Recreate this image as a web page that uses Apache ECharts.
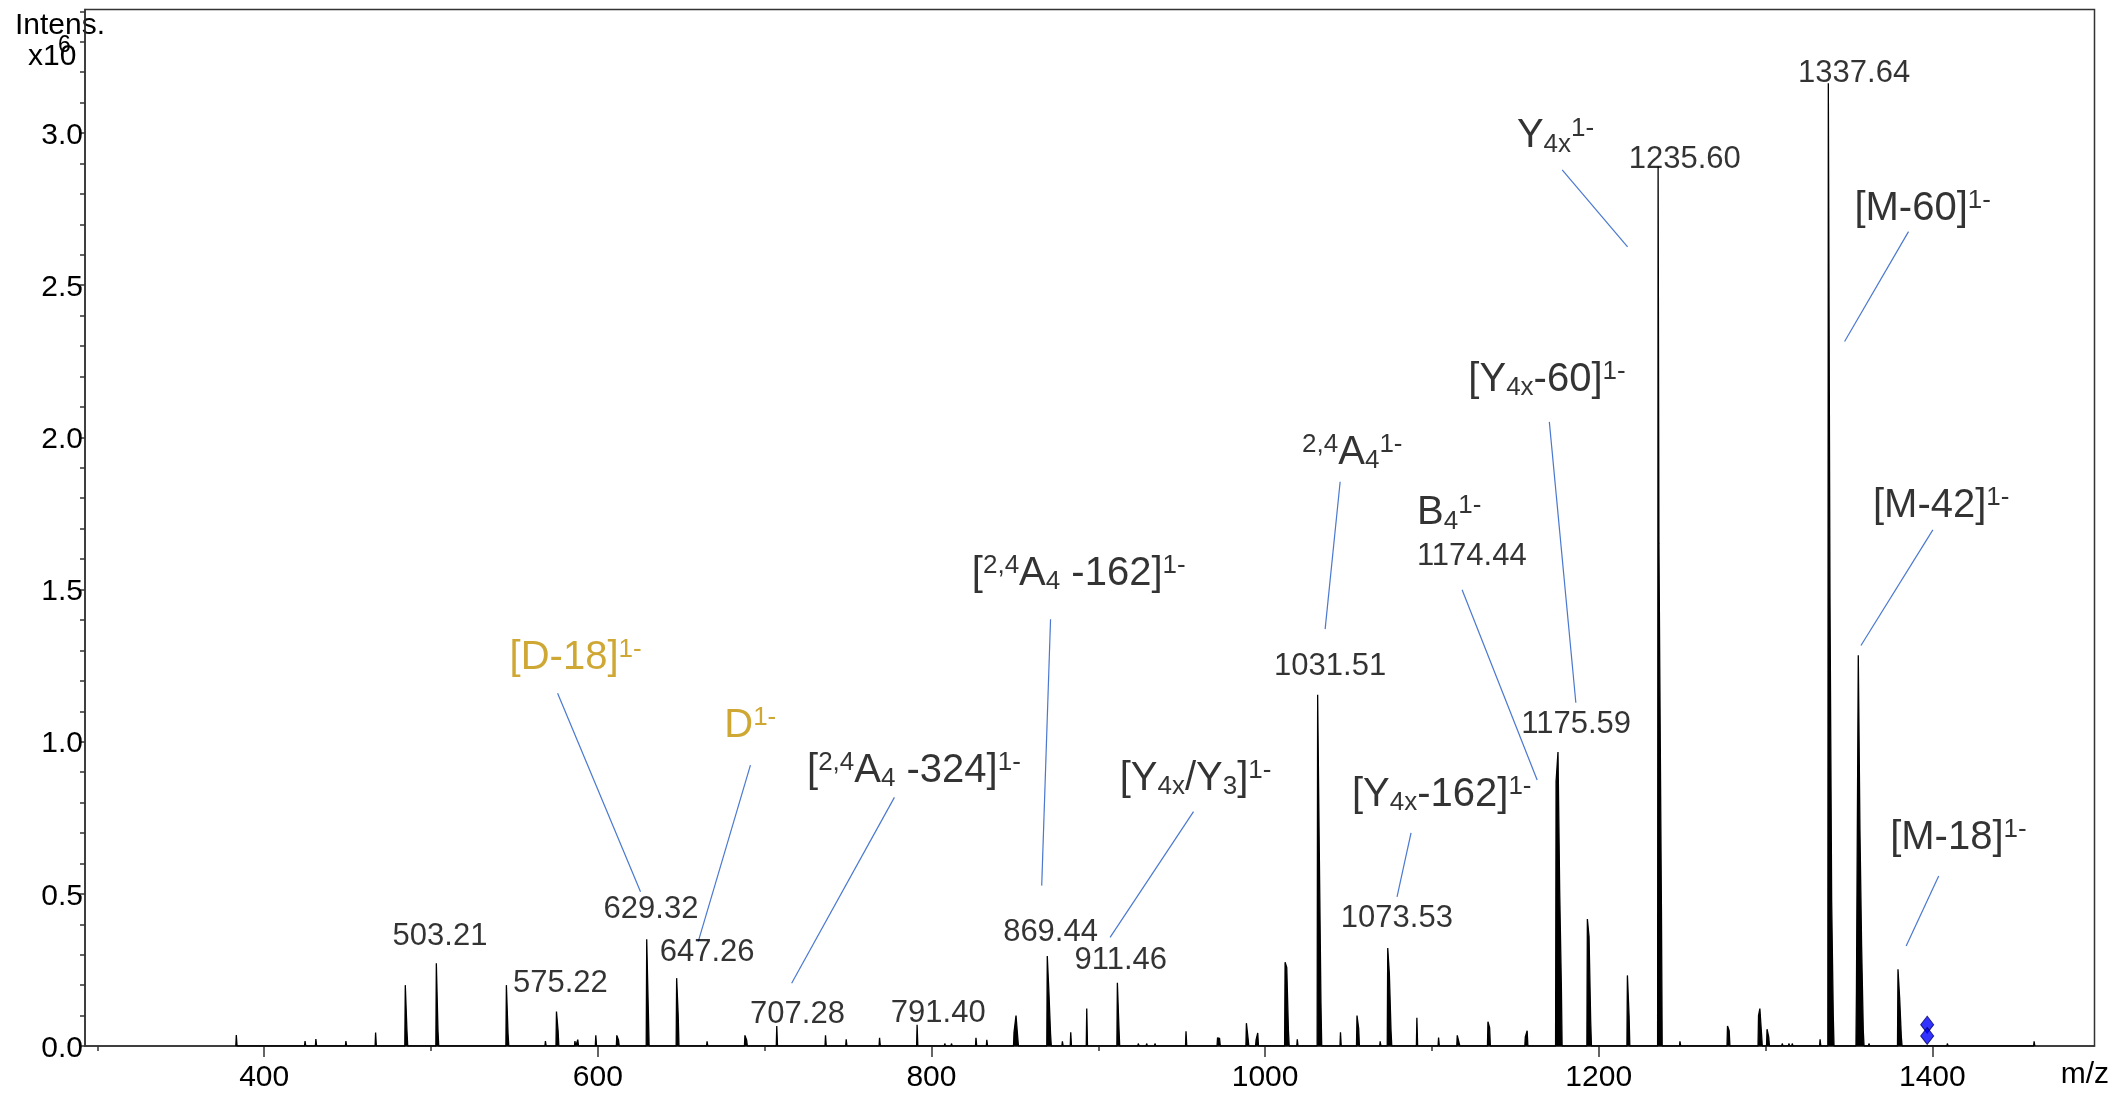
<!DOCTYPE html>
<html><head><meta charset="utf-8">
<script src="https://cdn.jsdelivr.net/npm/echarts@6/dist/echarts.min.js"></script>
<style>html,body{margin:0;padding:0;background:#fff}#c{width:2112px;height:1093px}</style>
</head><body><div id="c"></div>
<script>
const FONT = '"Liberation Sans", Arial, Helvetica, sans-serif';

// axis ticks
const xTicksMajor = [400, 600, 800, 1000, 1200, 1400];
const xTicksMinor = [300, 500, 700, 900, 1100, 1300];
const yTicksMajor = [0, 0.5, 1.0, 1.5, 2.0, 2.5, 3.0];
const yTicksMinor = [0.1,0.2,0.3,0.4,0.6,0.7,0.8,0.9,1.1,1.2,1.3,1.4,1.6,1.7,1.8,1.9,
                     2.1,2.2,2.3,2.4,2.6,2.7,2.8,2.9,3.1,3.2,3.3,3.4];
const X_MIN = 292.6, X_MAX = 1497.2, Y_MAX = 3.406;

// spectrum peaks: [m/z, intensity (x10^6)]
const peaks = [
 [383.3,0.036],[409.5,0.006],[424.5,0.016],[431.0,0.023],[439.0,0.006],[449.0,0.016],[466.8,0.044],
 [484.6,0.200],[485.6,0.050],
 [503.21,0.272],[504.2,0.050],
 [526.4,0.006],
 [545.2,0.200],[546.2,0.040],
 [558.7,0.006],[568.6,0.016],
 [575.22,0.113],[576.2,0.050],
 [586.3,0.016],[588.0,0.021],[598.8,0.035],
 [611.4,0.035],[612.4,0.020],
 [629.32,0.351],[630.3,0.113],
 [647.26,0.223],[648.2,0.100],
 [652.0,0.006],[665.5,0.015],
 [688.2,0.035],[689.2,0.020],
 [707.28,0.066],[710.3,0.005],[715.0,0.005],
 [736.5,0.035],[748.9,0.022],[768.9,0.027],
 [791.40,0.070],[808.0,0.008],[812.0,0.008],[826.7,0.027],[833.2,0.020],
 [849.5,0.045],[850.7,0.100],[851.7,0.030],
 [869.44,0.296],[870.4,0.180],[871.4,0.040],
 [876.0,0.006],[878.5,0.015],[883.5,0.045],[893.1,0.123],
 [911.46,0.208],[912.4,0.060],
 [924.0,0.008],[929.0,0.008],[934.0,0.008],[952.6,0.048],[960.0,0.006],[967.0,0.006],
 [971.5,0.027],[972.7,0.025],
 [988.8,0.075],[989.8,0.025],
 [994.6,0.020],[995.6,0.043],
 [1012.0,0.275],[1013.0,0.258],[1014.0,0.050],
 [1019.3,0.022],
 [1031.51,1.154],[1032.5,0.640],[1033.5,0.140],
 [1045.2,0.045],
 [1055.1,0.100],[1056.1,0.058],
 [1069.0,0.015],
 [1073.53,0.322],[1074.5,0.237],[1075.5,0.050],
 [1086.0,0.006],[1088.0,0.006],[1091.0,0.093],[1095.0,0.005],[1104.0,0.028],
 [1115.2,0.035],[1116.3,0.033],
 [1120.0,0.005],
 [1133.6,0.080],[1134.6,0.060],
 [1142.0,0.005],[1146.0,0.005],
 [1156.0,0.030],[1157.1,0.050],
 [1174.44,0.870],[1175.59,0.966],[1176.6,0.510],[1177.6,0.200],
 [1193.2,0.417],[1194.2,0.360],[1195.2,0.080],
 [1201.0,0.006],
 [1217.2,0.232],[1218.2,0.100],
 [1235.60,2.890],[1236.1,1.650],[1236.6,1.240],[1237.6,0.450],
 [1248.7,0.015],[1256.0,0.005],
 [1277.2,0.066],[1278.2,0.050],
 [1287.0,0.005],
 [1295.8,0.100],[1296.6,0.123],[1297.6,0.040],
 [1300.9,0.055],[1301.9,0.030],
 [1310.0,0.008],[1314.0,0.008],[1316.0,0.008],
 [1332.7,0.022],
 [1337.64,3.164],[1338.64,1.470],[1339.64,0.475],[1340.6,0.100],
 [1345.0,0.005],
 [1354.5,0.180],[1355.6,1.284],[1356.6,0.708],[1357.6,0.326],[1358.6,0.050],
 [1362.0,0.008],
 [1379.4,0.252],[1380.4,0.158],[1381.4,0.030],
 [1409.0,0.008],[1461.0,0.015]
];

// precursor markers [m/z, intensity]
const precursor = [[1396.9, 0.070], [1396.9, 0.033]];

// peak m/z labels: [text, anchor m/z, anchor intensity]
const peakLabels = [
 ['503.21',505.4,0.361],['575.22',577.6,0.207],['629.32',631.9,0.449],['647.26',665.5,0.307],
 ['707.28',719.7,0.103],['791.40',804.1,0.107],['869.44',871.4,0.373],['911.46',913.5,0.280],
 ['1031.51',1039.0,1.248],['1073.53',1079.0,0.420],['1174.44',1123.9,1.609],['1175.59',1186.5,1.058],
 ['1235.60',1251.6,2.912],['1337.64',1353.1,3.197]
];

// fragment annotations: [rich text, anchor m/z, anchor intensity]
const annotations = [
 ['{gn|[D-18]}{gsup|1-}', 586.7, 1.274],
 ['{gn|D}{gsup|1-}', 691.4, 1.052],
 ['{n|[}{sup|2,4}{n|A}{sub|4}{n| -324]}{sup|1-}', 789.5, 0.904],
 ['{n|[}{sup|2,4}{n|A}{sub|4}{n| -162]}{sup|1-}', 888.3, 1.550],
 ['{n|[Y}{sub|4x}{n|/Y}{sub|3}{n|]}{sup|1-}', 958.3, 0.877],
 ['{sup|2,4}{n|A}{sub|4}{sup|1-}', 1052.3, 1.950],
 ['{n|B}{sub|4}{sup|1-}', 1110.4, 1.750],
 ['{n|[Y}{sub|4x}{n|-60]}{sup|1-}', 1169.0, 2.189],
 ['{n|Y}{sub|4x}{sup|1-}', 1174.1, 2.989],
 ['{n|[Y}{sub|4x}{n|-162]}{sup|1-}', 1105.9, 0.826],
 ['{n|[M-60]}{sup|1-}', 1394.2, 2.750],
 ['{n|[M-42]}{sup|1-}', 1405.3, 1.775],
 ['{n|[M-18]}{sup|1-}', 1415.6, 0.685]
];

// leader lines: [[m/z, int], [m/z, int]]
const leaders = [
 [[575.9,1.159],[625.6,0.507]],
 [[691.5,0.923],[660.2,0.343]],
 [[777.8,0.817],[716.2,0.206]],
 [[871.4,1.402],[866.1,0.527]],
 [[957.1,0.770],[907.1,0.357]],
 [[1045.0,1.854],[1036.0,1.370]],
 [[1118.1,1.499],[1163.1,0.874]],
 [[1170.4,2.051],[1186.3,1.128]],
 [[1178.1,2.879],[1217.3,2.626]],
 [[1087.5,0.700],[1079.1,0.490]],
 [[1385.7,2.676],[1347.4,2.315]],
 [[1400.3,1.696],[1357.2,1.316]],
 [[1403.8,0.559],[1384.3,0.329]]
];

function buildProfile(list) {
  const pts = [];
  for (let i = 0; i < list.length; i++) {
    const m = list[i][0], h = list[i][1];
    const prev = i > 0 ? list[i-1][0] : -Infinity;
    const next = i < list.length - 1 ? list[i+1][0] : Infinity;
    if (m - prev > 1.25) pts.push([m - 0.3, 0]);
    pts.push([m, h]);
    if (next - m > 1.25) pts.push([m + 0.45, 0]);
  }
  return pts;
}

const AX = '#333';
const GOLD = '#C39100';
const rich = {
  n:    {fontSize: 40, fontFamily: FONT, lineHeight: 42, color: '#000'},
  sup:  {fontSize: 26, fontFamily: FONT, lineHeight: 28, verticalAlign: 'top', color: '#000'},
  sub:  {fontSize: 26, fontFamily: FONT, lineHeight: 15, verticalAlign: 'bottom', color: '#000'},
  gn:   {fontSize: 40, fontFamily: FONT, lineHeight: 42, color: GOLD},
  gsup: {fontSize: 26, fontFamily: FONT, lineHeight: 28, verticalAlign: 'top', color: GOLD}
};

const chart = echarts.init(document.getElementById('c'), null, {renderer: 'canvas'});
const option = {
  animation: false,
  backgroundColor: '#fff',
  grid: {left: 85, right: 17.5, top: 9.5, bottom: 47, show: true, borderColor: AX, borderWidth: 1.5, backgroundColor: 'transparent'},
  xAxis: [{
    type: 'value', min: X_MIN, max: X_MAX, position: 'bottom',
    axisLine: {show: true, onZero: false, lineStyle: {color: AX, width: 1.5}},
    axisTick: {show: true, length: 11, customValues: xTicksMajor, lineStyle: {color: AX, width: 1.5}},
    axisLabel: {show: true, customValues: xTicksMajor, margin: 17, fontSize: 30, fontFamily: FONT, color: '#000',
                formatter: v => String(Math.round(v))},
    splitLine: {show: false}
  }, {
    type: 'value', min: X_MIN, max: X_MAX, position: 'bottom',
    axisLine: {show: false, onZero: false},
    axisTick: {show: true, length: 5, customValues: xTicksMinor, lineStyle: {color: AX, width: 1.5}},
    axisLabel: {show: false},
    splitLine: {show: false}
  }],
  yAxis: [{
    type: 'value', min: 0, max: Y_MAX, position: 'left',
    axisLine: {show: true, onZero: false, lineStyle: {color: AX, width: 1.5}},
    axisTick: {show: true, length: 5, customValues: yTicksMajor, lineStyle: {color: AX, width: 1.5}},
    axisLabel: {show: true, customValues: yTicksMajor, margin: 2, color: '#000',
                formatter: v => '{t|' + Number(v).toFixed(1) + '}',
                rich: {t: {fontSize: 30, fontFamily: FONT, color: '#000', padding: [5, 0, 0, 0]}}},
    splitLine: {show: false}
  }, {
    type: 'value', min: 0, max: Y_MAX, position: 'left',
    axisLine: {show: false, onZero: false},
    axisTick: {show: true, length: 5, customValues: yTicksMinor, lineStyle: {color: AX, width: 1.5}},
    axisLabel: {show: false},
    splitLine: {show: false}
  }],
  graphic: [
    {type: 'text', x: 15, y: 25.5, style: {text: 'Intens.', fontSize: 30, fontFamily: FONT, fill: '#000', align: 'left', verticalAlign: 'middle', textAlign: 'left', textVerticalAlign: 'middle'}},
    {type: 'text', x: 28, y: 57, style: {text: 'x10', fontSize: 30, fontFamily: FONT, fill: '#000', align: 'left', verticalAlign: 'middle', textAlign: 'left', textVerticalAlign: 'middle'}},
    {type: 'text', x: 64.5, y: 46, style: {text: '6', fontSize: 23, fontFamily: FONT, fill: '#000', align: 'center', verticalAlign: 'middle', textAlign: 'center', textVerticalAlign: 'middle'}},
    {type: 'text', x: 2109, y: 1075, style: {text: 'm/z', fontSize: 30, fontFamily: FONT, fill: '#000', align: 'right', verticalAlign: 'middle', textAlign: 'right', textVerticalAlign: 'middle'}}
  ],
  series: [
    {
      type: 'line', xAxisIndex: 0, yAxisIndex: 0, data: buildProfile(peaks),
      symbol: 'none', showSymbol: false, silent: true, z: 3,
      lineStyle: {color: '#000', width: 1.3},
      areaStyle: {color: '#000', opacity: 1}
    },
    {
      type: 'lines', coordinateSystem: 'cartesian2d', xAxisIndex: 0, yAxisIndex: 0, silent: true, z: 4,
      data: leaders.map(c => ({coords: c})),
      lineStyle: {color: '#4a78d0', width: 1.2, opacity: 1, curveness: 0}
    },
    {
      type: 'scatter', xAxisIndex: 0, yAxisIndex: 0, z: 6,
      data: precursor, symbol: 'diamond', symbolSize: [13, 17],
      itemStyle: {color: '#0000ff', borderColor: '#000066', borderWidth: 1}
    },
    {
      type: 'scatter', xAxisIndex: 0, yAxisIndex: 0, z: 7, silent: true,
      symbol: 'circle', symbolSize: 1, itemStyle: {color: 'rgba(0,0,0,0)'},
      data: peakLabels.map(p => ({name: p[0], value: [p[1], p[2]]})),
      label: {show: true, position: 'inside', formatter: '{b}', fontSize: 31, fontFamily: FONT, color: '#000', align: 'center', verticalAlign: 'middle'}
    },
    {
      type: 'scatter', xAxisIndex: 0, yAxisIndex: 0, z: 7, silent: true,
      symbol: 'circle', symbolSize: 1, itemStyle: {color: 'rgba(0,0,0,0)'},
      data: annotations.map(a => ({name: a[0], value: [a[1], a[2]]})),
      label: {show: true, position: 'inside', formatter: p => p.name, align: 'center', verticalAlign: 'middle', rich: rich, color: '#000'}
    }
  ]
};
chart.setOption(option);
</script></body></html>
